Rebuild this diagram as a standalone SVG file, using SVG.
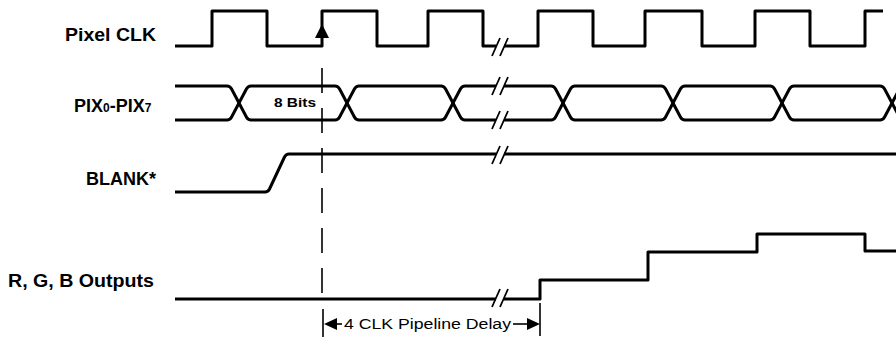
<svg xmlns="http://www.w3.org/2000/svg" width="896" height="340" viewBox="0 0 896 340">
<style>
.sig{fill:none;stroke:#000;stroke-width:3;stroke-linejoin:round;stroke-linecap:butt}
.brk{fill:none;stroke:#000;stroke-width:1.8}
.lbl{font-family:"Liberation Sans",Arial,sans-serif;font-weight:bold;font-size:18px;fill:#000}
.sm{font-family:"Liberation Sans",Arial,sans-serif;font-size:14px;fill:#000}
.dash{fill:none;stroke:#000;stroke-width:1.6;stroke-dasharray:25 15}
.thin{fill:none;stroke:#000;stroke-width:1.6}
</style>
<defs>
<g id="brk"><path class="brk" d="M-8,9 L0,-9 M0,9 L8,-9"/></g>
</defs>
<rect width="896" height="340" fill="#fff"/>
<g id="labels">
<text class="lbl" x="65" y="41" textLength="91" lengthAdjust="spacingAndGlyphs">Pixel CLK</text>
<text class="lbl" x="74" y="112">PIX<tspan font-size="12">0</tspan>-PIX<tspan font-size="12">7</tspan></text>
<text class="lbl" x="86" y="185">BLANK*</text>
<text class="lbl" x="8" y="287" textLength="146" lengthAdjust="spacingAndGlyphs">R, G, B Outputs</text>
</g>
<g id="pixel-clk">
<path class="sig" d="M175,46 H212 V11 H267 V46 H322 V11 H377 V46 H428 V11 H483 V46 H496 M504,46 H538 V11 H593 V46 H645 V11 H702 V46 H755 V11 H810 V46 H865 V11 H883"/>
<use href="#brk" x="500" y="47"/>
<polygon points="322,24 315,38 329,38" fill="#000"/>
</g>
<g id="pix">
<path class="sig" d="M175,86 L227,86 Q230,86 231.6,89 L246.4,117 Q248,120 251,120 L335,120 Q338,120 339.6,117 L354.4,89 Q356,86 359,86 L441,86 Q444,86 445.6,89 L460.4,117 Q462,120 465,120 L496,120 M504,120 L551,120 Q554,120 555.6,117 L570.4,89 Q572,86 575,86 L661,86 Q664,86 665.6,89 L680.4,117 Q682,120 685,120 L770,120 Q773,120 774.6,117 L789.4,89 Q791,86 794,86 L880,86 Q883,86 884.6,89 L899.4,117"/>
<path class="sig" d="M175,120 L227,120 Q230,120 231.6,117 L246.4,89 Q248,86 251,86 L335,86 Q338,86 339.6,89 L354.4,117 Q356,120 359,120 L441,120 Q444,120 445.6,117 L460.4,89 Q462,86 465,86 L496,86 M504,86 L551,86 Q554,86 555.6,89 L570.4,117 Q572,120 575,120 L661,120 Q664,120 665.6,117 L680.4,89 Q682,86 685,86 L770,86 Q773,86 774.6,89 L789.4,117 Q791,120 794,120 L880,120 Q883,120 884.6,117 L899.4,89"/>
<use href="#brk" x="500" y="86"/>
<use href="#brk" x="500" y="120"/>
<text x="274" y="107" font-family="Liberation Sans, Arial, sans-serif" font-weight="bold" font-size="12" textLength="42" lengthAdjust="spacingAndGlyphs">8 Bits</text>
</g>
<g id="blank">
<path class="sig" d="M175,192 H265 Q268,192 269.5,189 L284.5,157 Q286,154 289,154 H496 M504,154 H896"/>
<use href="#brk" x="500" y="155"/>
</g>
<g id="rgb">
<path class="sig" d="M175,299 H496 M504,299 H540 V280 H648 V252 H757 V234 H865 V251 H896"/>
<use href="#brk" x="500" y="298"/>
</g>
<g id="connectors">
<line class="dash" x1="322" y1="68" x2="322" y2="298"/>
<line class="thin" x1="323" y1="309" x2="323" y2="337"/>
<polygon points="324,324 337,318 337,330" fill="#000"/>
<line class="thin" x1="336" y1="324" x2="342" y2="324"/>
<text class="sm" x="344" y="329" textLength="167" lengthAdjust="spacingAndGlyphs">4 CLK Pipeline Delay</text>
<line class="thin" x1="513" y1="324" x2="529" y2="324"/>
<polygon points="540,324 527,318 527,330" fill="#000"/>
<line class="thin" x1="540" y1="303" x2="540" y2="336"/>
</g>
</svg>
